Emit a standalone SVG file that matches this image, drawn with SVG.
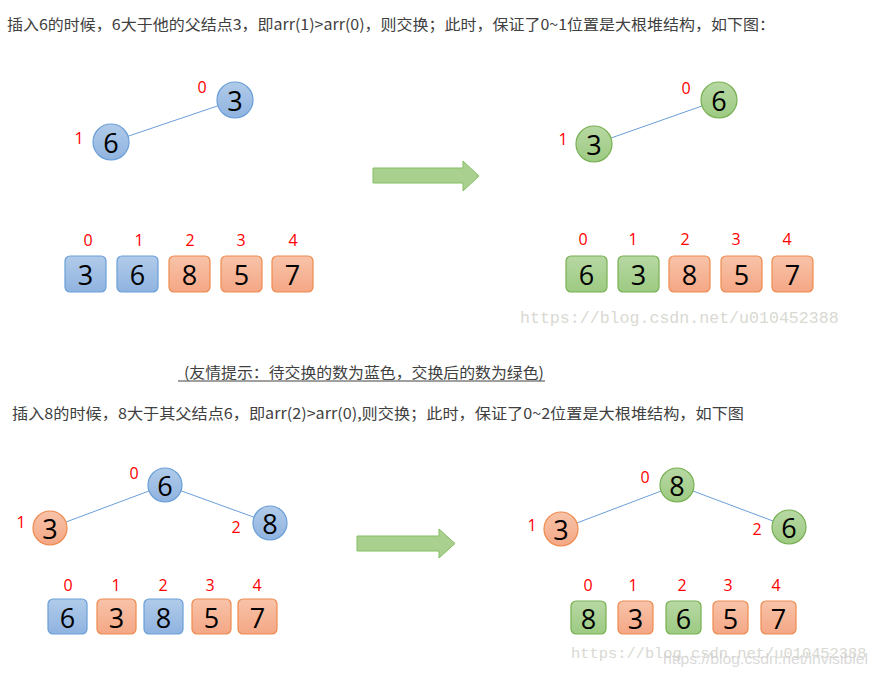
<svg xmlns="http://www.w3.org/2000/svg" width="878" height="677" viewBox="0 0 878 677">
<defs>
<linearGradient id="gb" x1="0" y1="0" x2="0" y2="1"><stop offset="0" stop-color="#b1cbe9"/><stop offset="1" stop-color="#8fb3e0"/></linearGradient>
<linearGradient id="go" x1="0" y1="0" x2="0" y2="1"><stop offset="0" stop-color="#f8c3a9"/><stop offset="1" stop-color="#f4a785"/></linearGradient>
<linearGradient id="gg" x1="0" y1="0" x2="0" y2="1"><stop offset="0" stop-color="#b7d8a3"/><stop offset="1" stop-color="#9dca82"/></linearGradient>
<style>
.t{font-family:"Microsoft YaHei","Noto Sans CJK SC",sans-serif;font-size:15px;fill:#404040}
.b{fill:url(#gb);stroke:#6a9fd8;stroke-width:1.2}
.o{fill:url(#go);stroke:#ee8a4e;stroke-width:1.2}
.g{fill:url(#gg);stroke:#77b052;stroke-width:1.2}
.n{font-family:"Open Sans","Liberation Sans",sans-serif;font-size:27px;fill:#000;text-anchor:middle;dominant-baseline:central}
.i{font-family:"Open Sans","Liberation Sans",sans-serif;font-size:16px;fill:#ff0000;text-anchor:middle;dominant-baseline:central}
.e{stroke:#6a9fd8;stroke-width:1;fill:none}
.ar{fill:#a9d08e;stroke:#85bd63;stroke-width:1}
.wm{font-family:"Liberation Mono",monospace;fill:#d9d9d2}
</style>
</defs>
<rect width="878" height="677" fill="#fff"/>
<text class="t" x="7" y="30" textLength="768" lengthAdjust="spacingAndGlyphs">插入6的时候，6大于他的父结点3，即arr(1)&gt;arr(0)，则交换；此时，保证了0~1位置是大根堆结构，如下图：</text>
<text class="t" x="184" y="378" textLength="360" lengthAdjust="spacingAndGlyphs">(友情提示：待交换的数为蓝色，交换后的数为绿色)</text>
<line x1="178" y1="381" x2="545" y2="381" stroke="#404040" stroke-width="1"/>
<text class="t" x="12" y="419" textLength="732" lengthAdjust="spacingAndGlyphs">插入8的时候，8大于其父结点6，即arr(2)&gt;arr(0),则交换；此时，保证了0~2位置是大根堆结构，如下图</text>

<g id="connectors">
<line class="e" x1="235" y1="100" x2="111" y2="142"/>
<line class="e" x1="719" y1="100" x2="594" y2="144"/>
<line class="e" x1="165" y1="485" x2="50" y2="528"/>
<line class="e" x1="165" y1="485" x2="270" y2="523"/>
<line class="e" x1="677" y1="485" x2="561" y2="529"/>
<line class="e" x1="677" y1="485" x2="789" y2="527"/>
</g>

<g id="tree1">
<circle class="b" cx="235" cy="100" r="18"/><text class="n" x="235" y="100">3</text><text class="i" x="202" y="87">0</text>
<circle class="b" cx="111" cy="142" r="18"/><text class="n" x="111" y="142">6</text><text class="i" x="79" y="138">1</text>
</g>
<g id="tree2">
<circle class="g" cx="719" cy="100" r="18"/><text class="n" x="719" y="100">6</text><text class="i" x="686" y="88">0</text>
<circle class="g" cx="594" cy="144" r="18"/><text class="n" x="594" y="144">3</text><text class="i" x="563" y="139">1</text>
</g>

<g id="array1">
<text class="i" x="88" y="240">0</text><text class="i" x="139" y="240">1</text><text class="i" x="190" y="240">2</text><text class="i" x="241" y="240">3</text><text class="i" x="293" y="240">4</text>
<rect class="b" x="65" y="256" width="41" height="36" rx="5"/><text class="n" x="85.5" y="274">3</text>
<rect class="b" x="117" y="256" width="41" height="36" rx="5"/><text class="n" x="137.5" y="274">6</text>
<rect class="o" x="169" y="256" width="41" height="36" rx="5"/><text class="n" x="189.5" y="274">8</text>
<rect class="o" x="221" y="256" width="41" height="36" rx="5"/><text class="n" x="241.5" y="274">5</text>
<rect class="o" x="272" y="256" width="41" height="36" rx="5"/><text class="n" x="292.5" y="274">7</text>
</g>
<g id="array2">
<text class="i" x="583" y="239">0</text><text class="i" x="633" y="239">1</text><text class="i" x="685" y="239">2</text><text class="i" x="736" y="239">3</text><text class="i" x="787" y="239">4</text>
<rect class="g" x="566" y="256" width="41" height="36" rx="5"/><text class="n" x="586.5" y="274">6</text>
<rect class="g" x="618" y="256" width="41" height="36" rx="5"/><text class="n" x="638.5" y="274">3</text>
<rect class="o" x="669" y="256" width="41" height="36" rx="5"/><text class="n" x="689.5" y="274">8</text>
<rect class="o" x="721" y="256" width="41" height="36" rx="5"/><text class="n" x="741.5" y="274">5</text>
<rect class="o" x="772" y="256" width="41" height="36" rx="5"/><text class="n" x="792.5" y="274">7</text>
</g>

<polygon id="arrow1" class="ar" points="373,168 463,168 463,161 479,176 463,191 463,183 373,183"/>

<text class="wm" x="520" y="323" font-size="16.6">https://blog.csdn.net/u010452388</text>

<g id="tree3">
<circle class="b" cx="165" cy="485" r="17"/><text class="n" x="165" y="485">6</text><text class="i" x="134" y="473">0</text>
<circle class="o" cx="50" cy="528" r="17"/><text class="n" x="50" y="528">3</text><text class="i" x="21" y="522">1</text>
<circle class="b" cx="270" cy="523" r="17"/><text class="n" x="270" y="523">8</text><text class="i" x="236" y="527">2</text>
</g>
<g id="tree4">
<circle class="g" cx="677" cy="485" r="17"/><text class="n" x="677" y="485">8</text><text class="i" x="645" y="477">0</text>
<circle class="o" cx="561" cy="529" r="17"/><text class="n" x="561" y="529">3</text><text class="i" x="532" y="525">1</text>
<circle class="g" cx="789" cy="527" r="17"/><text class="n" x="789" y="527">6</text><text class="i" x="757" y="529">2</text>
</g>

<polygon id="arrow2" class="ar" points="357,536 439,536 439,529 455,543.5 439,558 439,551 357,551"/>

<g id="array3">
<text class="i" x="68" y="585">0</text><text class="i" x="116" y="585">1</text><text class="i" x="163" y="585">2</text><text class="i" x="210" y="585">3</text><text class="i" x="257" y="585">4</text>
<rect class="b" x="48" y="599" width="39" height="35" rx="5"/><text class="n" x="67.5" y="617">6</text>
<rect class="o" x="97" y="599" width="39" height="35" rx="5"/><text class="n" x="116.5" y="617">3</text>
<rect class="b" x="144" y="599" width="39" height="35" rx="5"/><text class="n" x="163.5" y="617">8</text>
<rect class="o" x="192" y="599" width="39" height="35" rx="5"/><text class="n" x="211.5" y="617">5</text>
<rect class="o" x="238" y="599" width="39" height="35" rx="5"/><text class="n" x="257.5" y="617">7</text>
</g>
<g id="array4">
<text class="i" x="588" y="585">0</text><text class="i" x="633" y="585">1</text><text class="i" x="682" y="585">2</text><text class="i" x="728" y="585">3</text><text class="i" x="776" y="585">4</text>
<rect class="g" x="571" y="601" width="35" height="33" rx="5"/><text class="n" x="588.5" y="618">8</text>
<rect class="o" x="618" y="601" width="35" height="33" rx="5"/><text class="n" x="635.5" y="618">3</text>
<rect class="g" x="666" y="601" width="35" height="33" rx="5"/><text class="n" x="683.5" y="618">6</text>
<rect class="o" x="713" y="601" width="35" height="33" rx="5"/><text class="n" x="730.5" y="618">5</text>
<rect class="o" x="761" y="601" width="35" height="33" rx="5"/><text class="n" x="778.5" y="618">7</text>
</g>

<text class="wm" x="571" y="658" font-size="15.4">https://blog.csdn.net/u010452388</text>
<text x="663" y="664" font-family="'Liberation Sans',sans-serif" font-size="15" fill="#cfcfcf" fill-opacity="0.8" textLength="205" lengthAdjust="spacingAndGlyphs">https://blog.csdn.net/invisiblel</text>
</svg>
